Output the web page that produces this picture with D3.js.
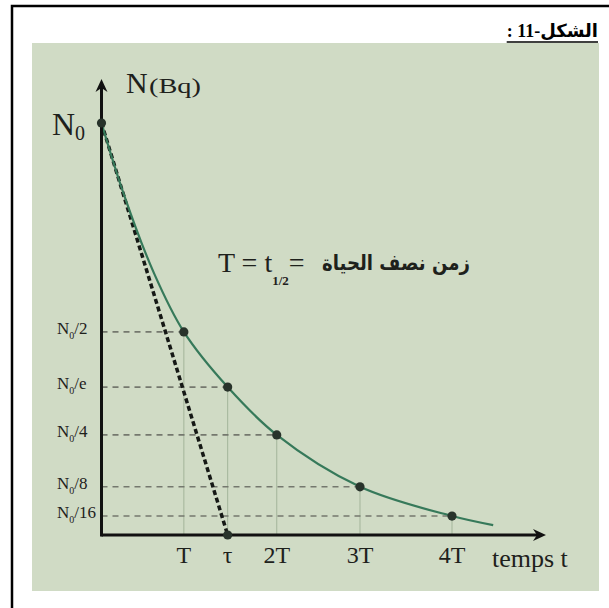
<!DOCTYPE html>
<html>
<head>
<meta charset="utf-8">
<style>
    body { margin: 0; background: #fff; }
    svg { display: block; }
    .serif { font-family: 'Liberation Serif', 'Times New Roman', serif; fill: #1e211c; }
</style>
</head>
<body>
<svg width="609" height="608"></svg>
<script src="https://d3js.org/d3.v7.min.js"></script>
<script>
    // decay curve (t in units of T, N in units of N0)
    const curveT = [0, 0.25, 0.6, 0.94, 1.44, 2.0, 2.95, 4.0, 4.47];
    const curveN = [1, 0.83, 0.635, 0.493, 0.359, 0.243, 0.117, 0.046, 0.024];

    // marked points on the curve
    const markT = [0, 0.94, 1.44, 2.0, 2.95, 4.0];
    const markN = [1, 0.493, 0.359, 0.243, 0.117, 0.046];

    // y labels: "N" + subscript 0 + suffix
    const yLabelSuffix = ["/2", "/e", "/4", "/8", "/16"];
    const yLabelN = [0.493, 0.359, 0.243, 0.117, 0.046];

    // x tick labels
    const xTickT = [0.94, 1.44, 2.0, 2.95, 4.0];
    const xTickLabels = ["T", "\u03C4", "2T", "3T", "4T"];

    // tangent at origin, hits the axis at tau
    const tangentT = [0, 1.44];
    const tangentN = [1, 0];

    const svg = d3.select("svg");

    // outer frame + green panel
    svg.append("rect")
        .attr("x", 12).attr("y", 6)
        .attr("width", 640).attr("height", 640)
        .style("fill", "none").style("stroke", "#000").style("stroke-width", 2.5);

    svg.append("rect")
        .attr("x", 32).attr("y", 43)
        .attr("width", 567).attr("height", 548)
        .style("fill", "#d0dbc5");

    // title (right to left)
    let title = svg.append("text")
        .attr("x", 598).attr("y", 37)
        .style("direction", "rtl")
        .attr("text-anchor", "start")
        .style("font-family", "'Liberation Serif', 'DejaVu Sans', serif")
        .style("font-weight", "bold")
        .style("font-size", "18px")
        .style("fill", "#000")
        .text("الشكل-11 :");
    let tb = title.node().getBBox();
    svg.append("line")
        .attr("x1", tb.x).attr("x2", tb.x + tb.width)
        .attr("y1", 42).attr("y2", 42)
        .style("stroke", "#000").style("stroke-width", 1.5);

    let x = d3.scaleLinear().domain([0, 4]).range([101.5, 452]);
    let y = d3.scaleLinear().domain([0, 1]).range([535, 123]);

    // faint vertical guides
    svg.append("g").selectAll("line")
        .data(markT.slice(1))
        .join("line")
        .attr("x1", d => x(d)).attr("x2", d => x(d))
        .attr("y1", (d, i) => y(markN[i + 1])).attr("y2", y(0))
        .style("stroke", "#a3b59a").style("stroke-width", 1);

    // horizontal dashed guides
    svg.append("g").selectAll("line")
        .data(markN.slice(1))
        .join("line")
        .attr("x1", x(0)).attr("x2", (d, i) => x(markT[i + 1]))
        .attr("y1", d => y(d)).attr("y2", d => y(d))
        .style("stroke", "#74786e").style("stroke-width", 1.6)
        .style("stroke-dasharray", "6,5");

    // tangent
    svg.append("line")
        .attr("x1", x(tangentT[0])).attr("y1", y(tangentN[0]))
        .attr("x2", x(tangentT[1])).attr("y2", y(tangentN[1]))
        .style("stroke", "#151815").style("stroke-width", 3.5)
        .style("stroke-dasharray", "5,3");

    // decay curve
    let line = d3.line()
        .x(d => x(d[0]))
        .y(d => y(d[1]))
        .curve(d3.curveCatmullRom.alpha(0.5));

    svg.append("path")
        .datum(d3.zip(curveT, curveN))
        .attr("d", line)
        .style("fill", "none")
        .style("stroke", "#36795a")
        .style("stroke-width", 2.2);

    // axes
    svg.append("line")
        .attr("x1", x(0)).attr("x2", x(0))
        .attr("y1", y(0) + 1.5).attr("y2", 84)
        .style("stroke", "#111").style("stroke-width", 3);
    svg.append("path")
        .attr("d", `M${x(0)},79 L${x(0) - 6},92 L${x(0)},88 L${x(0) + 6},92 Z`)
        .style("fill", "#111");

    svg.append("line")
        .attr("x1", x(0)).attr("x2", 540)
        .attr("y1", y(0)).attr("y2", y(0))
        .style("stroke", "#111").style("stroke-width", 3);
    svg.append("path")
        .attr("d", `M546,${y(0)} L533,${y(0) - 6} L537,${y(0)} L533,${y(0) + 6} Z`)
        .style("fill", "#111");

    // points
    svg.append("g").selectAll("circle")
        .data(d3.zip(markT, markN).concat([[tangentT[1], 0]]))
        .join("circle")
        .attr("cx", d => x(d[0])).attr("cy", d => y(d[1]))
        .attr("r", 4.6)
        .style("fill", "#28332b");

    // y labels
    let yl = svg.append("g").selectAll("text")
        .data(yLabelN)
        .join("text")
        .attr("class", "serif")
        .attr("x", 57)
        .attr("y", d => y(d) + 2)
        .style("font-size", "17px");
    yl.append("tspan").text("N");
    yl.append("tspan").attr("dy", 5).style("font-size", "10px").text("0");
    yl.append("tspan").attr("dy", -5).text((d, i) => yLabelSuffix[i]);

    // x tick labels
    svg.append("g").selectAll("text")
        .data(xTickT)
        .join("text")
        .attr("class", "serif")
        .attr("x", d => x(d))
        .attr("y", 563)
        .attr("text-anchor", "middle")
        .style("font-size", "24px")
        .text((d, i) => xTickLabels[i]);

    svg.append("text")
        .attr("class", "serif")
        .attr("x", 492).attr("y", 567)
        .style("font-size", "26px")
        .text("temps t");

    // N0 and axis title
    let n0 = svg.append("text").attr("class", "serif")
        .attr("x", 52).attr("y", 135).style("font-size", "32px");
    n0.append("tspan").text("N");
    n0.append("tspan").attr("dy", 5).style("font-size", "20px").text("0");

    svg.append("text").attr("class", "serif")
        .attr("x", 126).attr("y", 93).style("font-size", "30px")
        .text("N");
    svg.append("text").attr("class", "serif")
        .attr("x", 149).attr("y", 93).style("font-size", "22px")
        .attr("textLength", 52).attr("lengthAdjust", "spacingAndGlyphs")
        .text("(Bq)");

    // half-life formula
    let f = svg.append("text").attr("class", "serif")
        .attr("x", 218).attr("y", 272).style("font-size", "28px");
    f.append("tspan").text("T = t");
    f.append("tspan").attr("dy", 13).style("font-size", "13px").style("font-weight", "bold").text("1/2");
    f.append("tspan").attr("dy", -13).text("=");

    svg.append("text")
        .attr("x", 322).attr("y", 270)
        .style("font-family", "'DejaVu Sans', sans-serif")
        .style("font-weight", "bold")
        .style("font-size", "21px")
        .style("fill", "#1e211c")
        .attr("textLength", 148)
        .attr("lengthAdjust", "spacingAndGlyphs")
        .text("زمن  نصف الحياة");
</script>
</body>
</html>
